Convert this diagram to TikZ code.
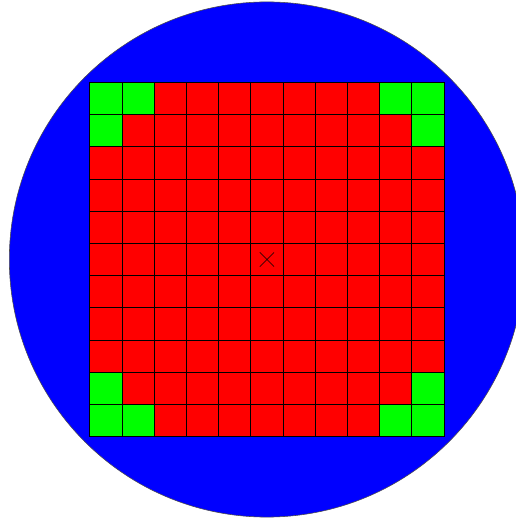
\documentclass[tikz,border=0pt]{standalone}
\usetikzlibrary{calc}
\begin{document}
\begin{tikzpicture}[
  wafer/.style={fill=blue, draw=black!70, line width=0.5pt},
  die/.style={fill=red, draw=black, line width=0.6pt},
  cornerdie/.style={die, fill=green},
  centremark/.style={draw=black, line width=0.5pt}
]
% frame of the picture (wafer runs off the right side)
\useasboundingbox (-8.29,-8.06) rectangle (7.73,8.06);
\clip (-8.29,-8.06) rectangle (7.73,8.06);
\coordinate (c) at (0,0);
\draw[wafer] (c) circle (8);
% 11 x 11 dies, top-left corner of the array at (-5.5,5.5)
\foreach \i in {0,...,10}
  \foreach \j in {0,...,10}
    \draw[die] (-5.5+\i,4.5-\j) rectangle ++(1,1);
% green dies in the four corners
\foreach \i/\j in {0/0,1/0,0/1,9/0,10/0,10/1,0/9,0/10,1/10,10/9,9/10,10/10}
  \draw[cornerdie] (-5.5+\i,4.5-\j) rectangle ++(1,1);
% centre mark
\draw[centremark] ($(c)+(-0.22,0.22)$) -- ($(c)+(0.22,-0.22)$);
\draw[centremark] ($(c)+(-0.22,-0.22)$) -- ($(c)+(0.22,0.22)$);
\end{tikzpicture}
\end{document}
